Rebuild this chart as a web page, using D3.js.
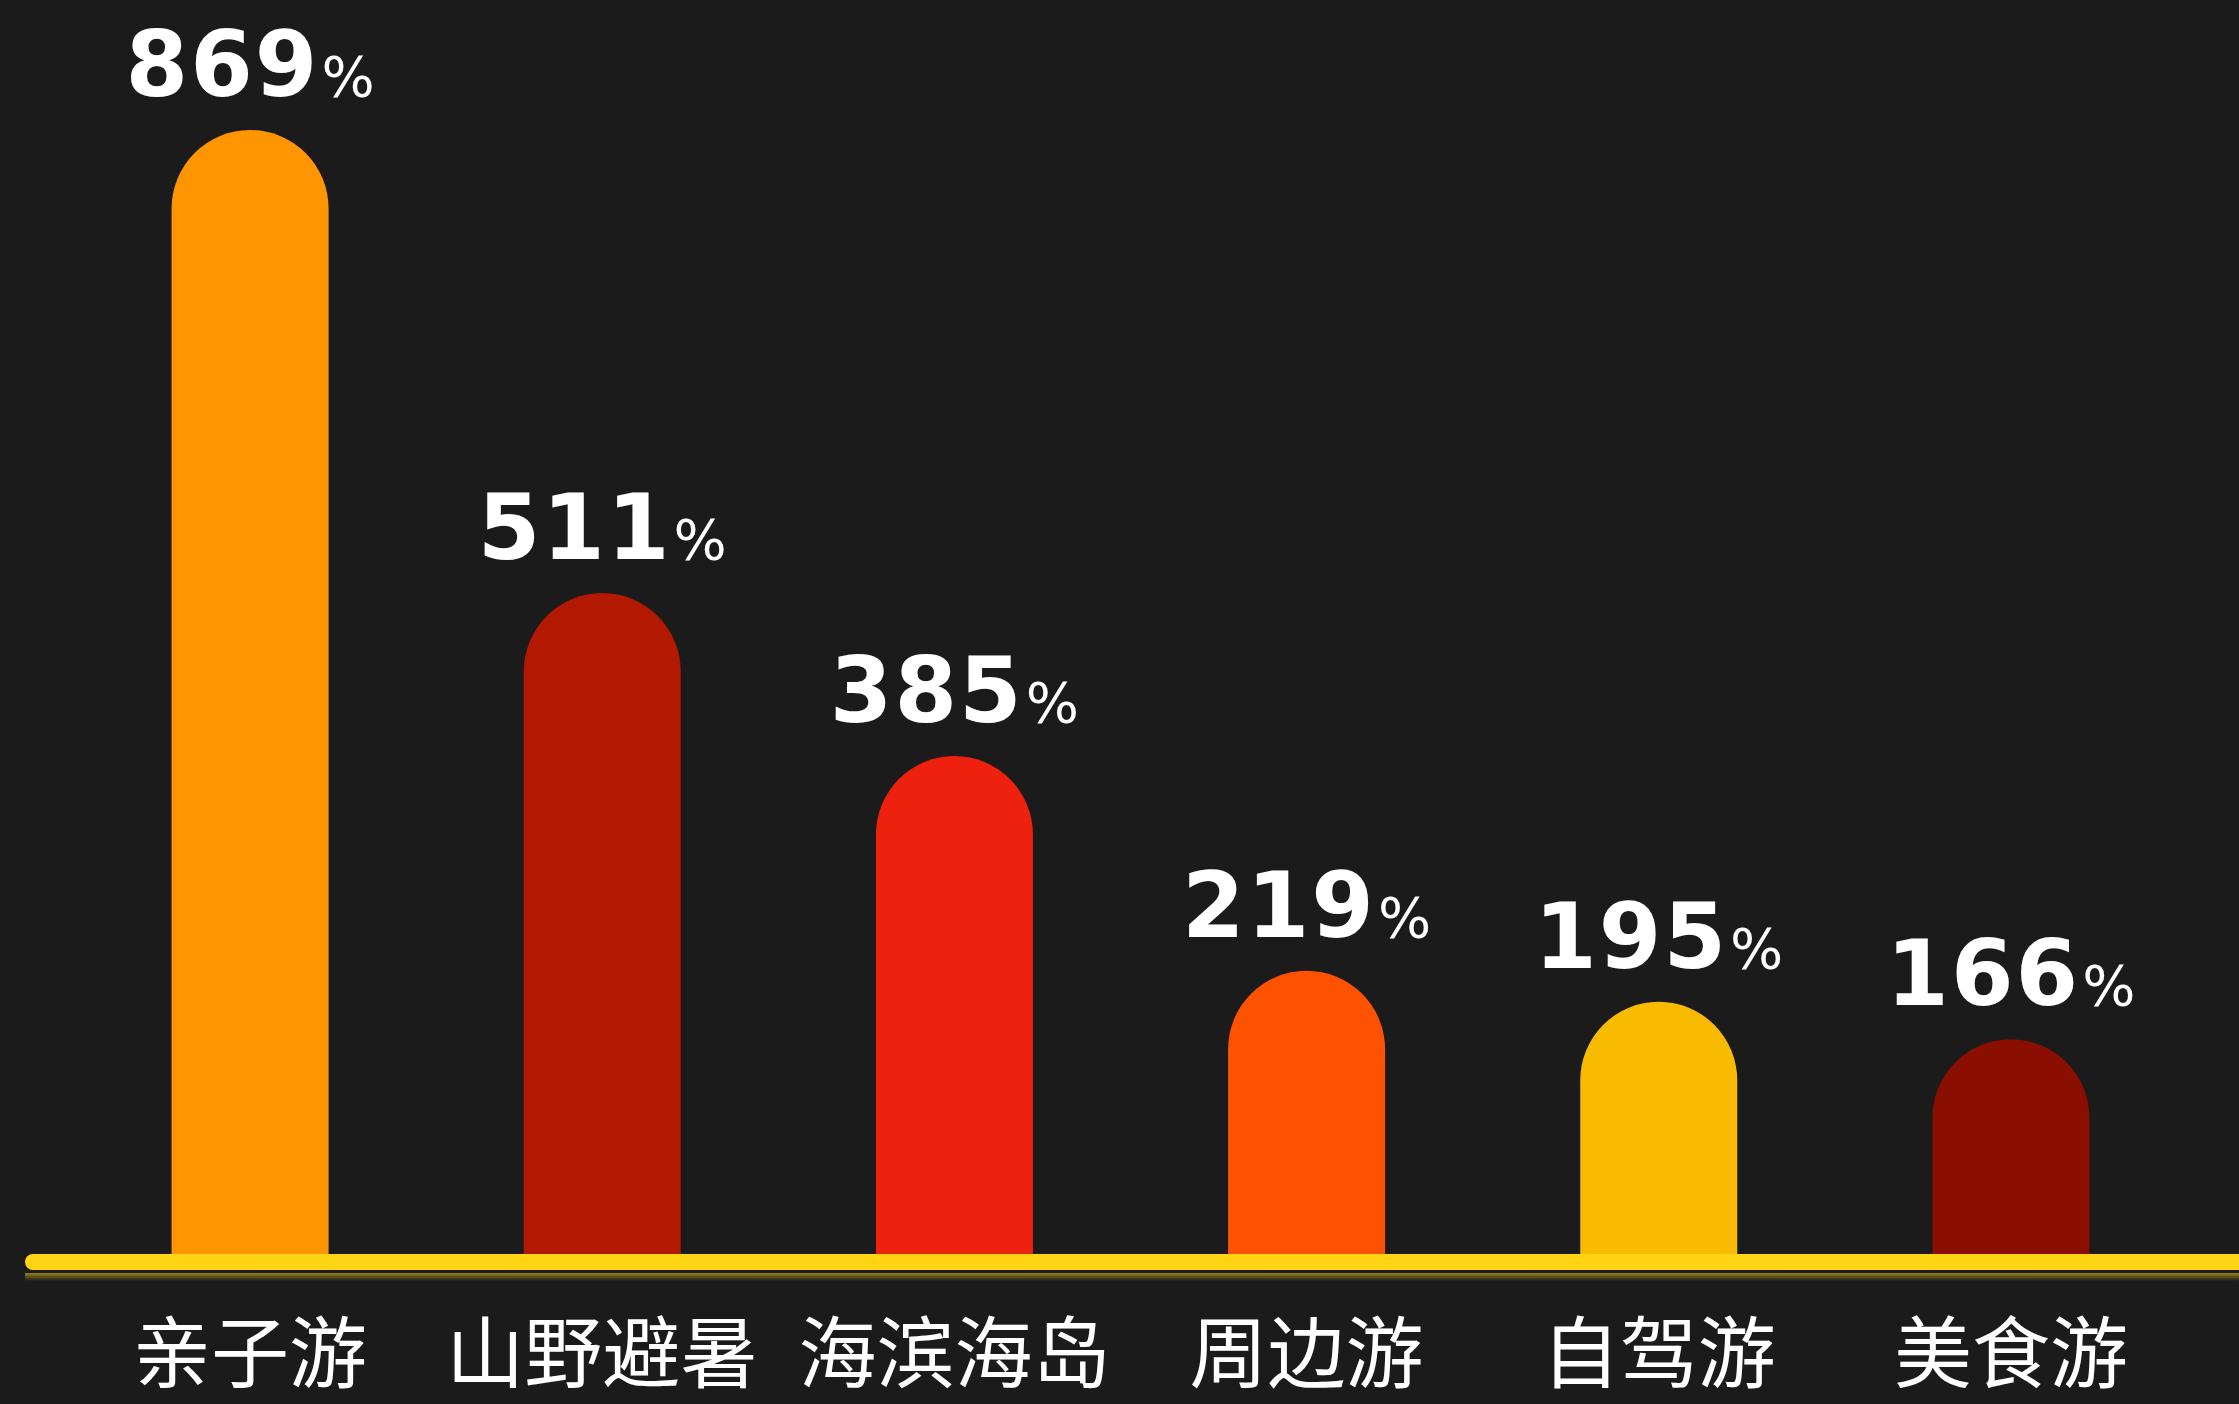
<!DOCTYPE html>
<html><head><meta charset="utf-8">
<script src="https://cdn.jsdelivr.net/npm/d3@7"></script>
<style>html,body{margin:0;padding:0;background:#1b1b1b;overflow:hidden}</style>
</head><body>
<svg id="c" width="2239" height="1404"></svg>
<script>
const categories = ["亲子游", "山野避暑", "海滨海岛", "周边游", "自驾游", "美食游"];
const values = [869, 511, 385, 219, 195, 166];
const colors = ["#FF9500", "#B31800", "#EE210F", "#FF5200", "#F9BB00", "#8A0F00"];

const W = 2239, H = 1404;
const baseY = 1254, topY = 130;
const barW = 157;
const svg = d3.select("#c");
svg.append("rect").attr("width", W).attr("height", H).attr("fill", "#1b1b1b");

const x = d3.scalePoint().domain(categories).range([74, 2187]).padding(0.5);
const y = d3.scaleLinear().domain([0, d3.max(values)]).range([baseY, topY]);

const defs = svg.append("defs");
const g = defs.append("linearGradient").attr("id", "refl").attr("x1", 0).attr("x2", 0).attr("y1", 0).attr("y2", 1);
g.append("stop").attr("offset", "0%").attr("stop-color", "#FFD414").attr("stop-opacity", 0.55);
g.append("stop").attr("offset", "100%").attr("stop-color", "#FFD414").attr("stop-opacity", 0);

function barPath(cx, top, w) {
  const r = w / 2, l = cx - r, rr = cx + r;
  return `M${l},${baseY} L${l},${top + r} A${r},${r} 0 0 1 ${rr},${top + r} L${rr},${baseY} Z`;
}

const data = categories.map((c, i) => ({c, v: values[i], col: colors[i]}));

svg.selectAll("path.bar").data(data).join("path")
  .attr("class", "bar")
  .attr("d", d => barPath(x(d.c), y(d.v), barW))
  .attr("fill", d => d.col);

// baseline
svg.append("rect").attr("x", 25).attr("y", baseY).attr("width", W - 25 + 20).attr("height", 16)
  .attr("rx", 8).attr("fill", "#FFD414");
svg.append("rect").attr("x", 25).attr("y", baseY + 19).attr("width", W).attr("height", 8)
  .attr("fill", "url(#refl)");

// value labels
const vl = svg.selectAll("text.val").data(data).join("text")
  .attr("class", "val")
  .attr("x", d => x(d.c))
  .attr("y", d => y(d.v) - 34)
  .attr("text-anchor", "middle")
  .attr("fill", "#ffffff")
  .attr("font-family", "'DejaVu Sans', sans-serif")
  .attr("font-weight", "bold")
  .attr("font-size", 90);
vl.append("tspan").attr("letter-spacing", 2).text(d => d.v);
vl.append("tspan").attr("font-size", 56).attr("font-weight", "normal").attr("dx", 2).text("%");

// category labels
svg.selectAll("text.cat").data(data).join("text")
  .attr("class", "cat")
  .attr("x", d => x(d.c))
  .attr("y", 1382)
  .attr("text-anchor", "middle")
  .attr("fill", "#ffffff")
  .attr("font-family", "'Noto Sans CJK SC', sans-serif")
  .attr("font-size", 78)
  .text(d => d.c);
</script>
</body></html>
